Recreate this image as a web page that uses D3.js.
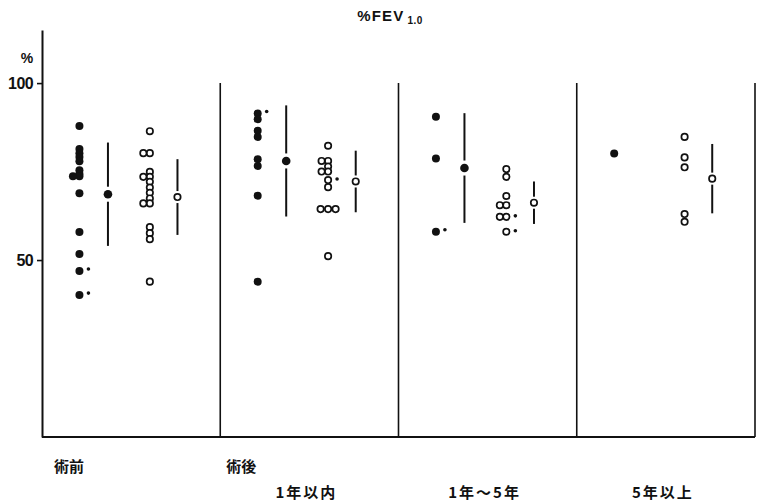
<!DOCTYPE html>
<html><head><meta charset="utf-8">
<script src="https://cdn.jsdelivr.net/npm/d3@7"></script>
<style>
body{margin:0;background:#fff}
text{font-family:"Liberation Sans",Arial,sans-serif;font-weight:bold;fill:#111}
.jp{font-family:"Noto Sans CJK JP",sans-serif;font-weight:bold}
</style>
</head><body><svg id="c" width="758" height="502"></svg>
<script>
// ---- data ----
const groups = ["術前", "1年以内", "1年～5年", "5年以上"];
const postLabel = "術後";
const yTicks = [50, 100];
const yUnit = "%";
const titleMain = "%FEV";
const titleSub = "1.0";

// individual values (filled = ●, hollow = ○); repeated values are drawn side by side
const filledValues = [
  [87.9, 81.4, 80.2, 79.1, 77.9, 75.4, 74.3, 73.7, 73.7, 68.9, 57.9, 51.7, 46.9, 40.1],
  [91.4, 89.8, 86.5, 84.8, 78.5, 76.6, 68.2, 43.9],
  [90.5, 78.7, 58.0],
  [80.1]
];
const hollowValues = [
  [86.4, 80.2, 80.2, 74.9, 73.5, 73.5, 72.1, 70.5, 69.0, 67.4, 66.0, 66.0, 59.3, 57.6, 55.9, 43.9],
  [82.3, 78.0, 78.0, 76.4, 75.0, 75.0, 72.6, 70.6, 64.4, 64.4, 64.4, 51.1],
  [75.7, 73.5, 68.1, 65.5, 65.5, 62.2, 62.2, 58.0],
  [84.8, 79.0, 76.2, 63.0, 60.8]
];
// values carrying a small side mark
const filledMarks = [[46.9, 40.1], [91.4], [58.0], []];
const hollowMarks = [[], [72.6], [62.2, 58.0], []];
// mean ± SD
const filledMean = [68.6, 78.0, 76.0, null];
const filledSD   = [14.6, 15.7, 15.5, null];
const hollowMean = [67.8, 72.2, 66.2, 73.0];
const hollowSD   = [10.7, 8.7, 6.0, 9.8];

// ---- layout ----
const svg = d3.select("#c");
const x = d3.scaleLinear().domain([0, groups.length]).range([42, 755]);
const y = d3.scaleLinear().domain([0, 115]).range([437, 30]);
const pos = {filled: 0.21, fMean: 0.37, hollow: 0.605, hMean: 0.76};
const ink = "#111";

// axes
const yAxis = d3.axisLeft(y).tickValues(yTicks).tickSize(5).tickSizeOuter(0).tickPadding(4);
const ga = svg.append("g").attr("transform", `translate(${x(0)},0)`).call(yAxis);
ga.select(".domain").attr("stroke", ink).attr("stroke-width", 2);
ga.selectAll(".tick line").attr("stroke", ink).attr("stroke-width", 1.6);
ga.selectAll(".tick text").attr("font-size", 16).attr("font-family", "Liberation Sans, Arial")
  .attr("font-weight", "bold").attr("fill", ink).attr("dy", "0.34em").attr("letter-spacing", -0.6);
svg.append("text").attr("x", 27).attr("y", 63).attr("text-anchor", "middle")
  .attr("font-size", 14).text(yUnit);

// bottom line and panel dividers
svg.append("line").attr("x1", x(0)).attr("x2", x(groups.length)).attr("y1", y(0)).attr("y2", y(0))
  .attr("stroke", ink).attr("stroke-width", 2);
d3.range(1, groups.length + 1).forEach(g => {
  svg.append("line").attr("x1", x(g)).attr("x2", x(g)).attr("y1", y(100)).attr("y2", y(0))
    .attr("stroke", ink).attr("stroke-width", 1.6);
});

// title
const t = svg.append("text").attr("x", 390).attr("y", 21).attr("text-anchor", "middle")
  .attr("font-size", 15).attr("letter-spacing", 1.2);
t.append("tspan").text(titleMain);
t.append("tspan").attr("font-size", 10).attr("dx", 3).attr("dy", 3).attr("letter-spacing", 0.5).text(titleSub);

// helper: spread repeated values horizontally
function layout(vals, g, p) {
  const counts = d3.rollup(vals, v => v.length, d => d);
  const seen = new Map();
  return vals.map(v => {
    const n = counts.get(v), k = seen.get(v) || 0;
    seen.set(v, k + 1);
    let off = 0;
    if (n === 2) off = k === 0 ? 0 : -6.5;
    else if (n >= 3) off = (k - (n - 1) / 2) * 7.5;
    return {cx: x(g + p) + off, cy: y(v), v};
  });
}

groups.forEach((name, g) => {
  const gp = svg.append("g");
  // filled points
  gp.selectAll(".f").data(layout(filledValues[g], g, pos.filled)).join("circle")
    .attr("cx", d => d.cx).attr("cy", d => d.cy).attr("r", 4).attr("fill", ink);
  // hollow points
  gp.selectAll(".h").data(layout(hollowValues[g], g, pos.hollow)).join("circle")
    .attr("cx", d => d.cx).attr("cy", d => d.cy).attr("r", 3.2)
    .attr("fill", "#fff").attr("stroke", ink).attr("stroke-width", 1.7);
  // small marks
  filledMarks[g].forEach(v => gp.append("circle").attr("cx", x(g + pos.filled) + 9).attr("cy", y(v) - 2)
    .attr("r", 1.8).attr("fill", ink));
  hollowMarks[g].forEach(v => gp.append("circle").attr("cx", x(g + pos.hollow) + 9).attr("cy", y(v) - 1)
    .attr("r", 1.8).attr("fill", ink));
  // mean ± SD
  function meanBar(m, sd, p, hollow) {
    if (m == null) return;
    const cx = x(g + p), cy = y(m), gap = hollow ? 6 : 7.5;
    gp.append("line").attr("x1", cx).attr("x2", cx).attr("y1", y(m + sd)).attr("y2", cy - gap)
      .attr("stroke", ink).attr("stroke-width", 2);
    gp.append("line").attr("x1", cx).attr("x2", cx).attr("y1", cy + gap).attr("y2", y(m - sd))
      .attr("stroke", ink).attr("stroke-width", 2);
    if (hollow) gp.append("circle").attr("cx", cx).attr("cy", cy).attr("r", 3.2)
      .attr("fill", "#fff").attr("stroke", ink).attr("stroke-width", 1.7);
    else gp.append("circle").attr("cx", cx).attr("cy", cy).attr("r", 4.3).attr("fill", ink);
  }
  meanBar(filledMean[g], filledSD[g], pos.fMean, false);
  meanBar(hollowMean[g], hollowSD[g], pos.hMean, true);
});

// category labels
svg.append("text").attr("class", "jp").attr("x", x(0) + 12).attr("y", 472).attr("font-size", 15).text(groups[0]);
svg.append("text").attr("class", "jp").attr("x", x(1) + 6).attr("y", 472).attr("font-size", 15).text(postLabel);
groups.slice(1).forEach((name, i) => {
  svg.append("text").attr("class", "jp").attr("x", x(i + 1.5) - 3).attr("y", 498)
    .attr("text-anchor", "middle").attr("font-size", 15).attr("letter-spacing", 2).text(name);
});
</script>
</body></html>
